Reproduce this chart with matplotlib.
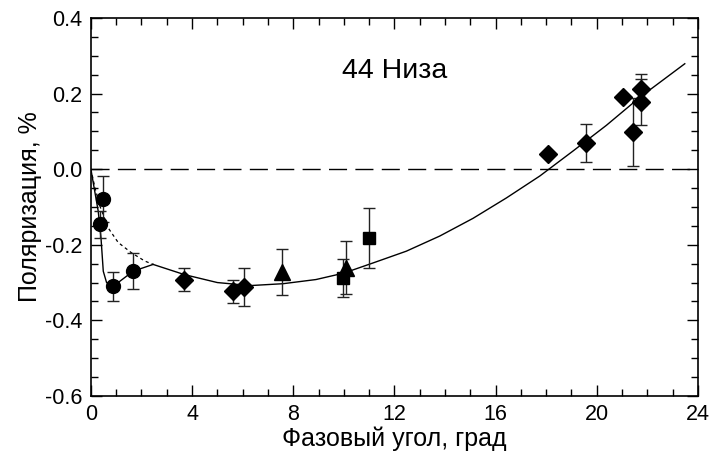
import matplotlib
matplotlib.use("Agg")
import matplotlib.pyplot as plt
from matplotlib.ticker import MultipleLocator

plt.rcParams['font.family'] = ['Liberation Sans', 'DejaVu Sans']

# Observations (phase angle, polarization, error)
circ_x = [0.49, 0.36, 0.88, 1.67]
circ_y = [-0.079, -0.146, -0.31, -0.27]
circ_e = [0.06, 0.035, 0.038, 0.047]

diam_x = [3.68, 5.6, 6.06, 18.07, 19.59, 21.04, 21.44, 21.73, 21.73]
diam_y = [-0.292, -0.323, -0.312, 0.039, 0.07, 0.19, 0.099, 0.211, 0.178]
diam_e = [0.03, 0.03, 0.05, 0.0, 0.05, 0.0, 0.09, 0.04, 0.06]

tri_x = [7.57, 10.08]
tri_y = [-0.272, -0.261]
tri_e = [0.06, 0.07]

sq_x = [9.97, 11.0]
sq_y = [-0.287, -0.182]
sq_e = [0.05, 0.08]

# Fitted phase curve
fit_x = [2.46, 3.7, 5.0, 6.3, 7.6, 8.9, 10.0, 11.16, 12.47, 13.79, 15.11, 16.43, 17.75, 19.06, 20.38, 21.7, 23.48]
fit_y = [-0.252, -0.279, -0.300, -0.308, -0.303, -0.292, -0.275, -0.248, -0.217, -0.177, -0.130, -0.076, -0.018, 0.048, 0.116, 0.19, 0.279]

# Dotted extension of fit toward zero phase
dot_x = [0, 0.16, 0.36, 0.68, 1.08, 1.6, 2.13, 2.46]
dot_y = [0, -0.049, -0.098, -0.155, -0.194, -0.221, -0.243, -0.252]

# Solid opposition-spike branch
spk_x = [0, 0.29, 0.4, 0.49, 0.62, 0.88, 1.67, 2.46]
spk_y = [0, -0.111, -0.182, -0.27, -0.30, -0.31, -0.27, -0.252]

x_ticks = [0, 4, 8, 12, 16, 20, 24]
y_ticks = [-0.6, -0.4, -0.2, 0.0, 0.2, 0.4]

fig = plt.figure(figsize=(7.1, 4.62), dpi=100)
ax = fig.add_axes([0.128, 0.143, 0.855, 0.818])

ax.axhline(0, color='black', lw=1.0, dashes=(13, 6), zorder=1)
ax.plot(fit_x, fit_y, color='black', lw=1.0, zorder=2)
ax.plot(dot_x, dot_y, color='black', lw=0.9, dashes=(2.5, 2.5), zorder=2)
ax.plot(spk_x, spk_y, color='black', lw=1.0, zorder=2)

ekw = dict(fmt='none', ecolor='#222222', elinewidth=1.0, capsize=4, capthick=1.0, zorder=3)
ax.errorbar(circ_x, circ_y, yerr=circ_e, **ekw)
ax.errorbar(diam_x, diam_y, yerr=diam_e, **ekw)
ax.errorbar(tri_x, tri_y, yerr=tri_e, **ekw)
ax.errorbar(sq_x, sq_y, yerr=sq_e, **ekw)

ax.plot(circ_x, circ_y, 'o', color='black', ms=10, zorder=4)
ax.plot(diam_x, diam_y, 'D', color='black', ms=9, zorder=4)
ax.plot(tri_x, tri_y, '^', color='black', ms=11, zorder=4)
ax.plot(sq_x, sq_y, 's', color='black', ms=8.5, zorder=4)

ax.set_xlim(0, 24)
ax.set_ylim(-0.6, 0.4)
ax.set_xticks(x_ticks)
ax.set_xticklabels([str(v) for v in x_ticks])
ax.set_yticks(y_ticks)
ax.set_yticklabels([f"{v:.1f}" for v in y_ticks])
ax.xaxis.set_minor_locator(MultipleLocator(1))
ax.yaxis.set_minor_locator(MultipleLocator(0.05))
ax.tick_params(which='both', direction='in', top=True, right=True, labelsize=15.5, width=1.0)
ax.tick_params(which='major', length=8, pad=6)
ax.tick_params(which='minor', length=5)
for s in ax.spines.values():
    s.set_linewidth(1.2)

ax.set_xlabel('Фазовый угол, град', fontsize=18, labelpad=1)
ax.set_ylabel('Поляризация, %', fontsize=18, labelpad=2)
ax.text(0.5, 0.86, '44 Низа', transform=ax.transAxes, fontsize=20.5, ha='center', va='center')

fig.savefig('out.png', dpi=100)
